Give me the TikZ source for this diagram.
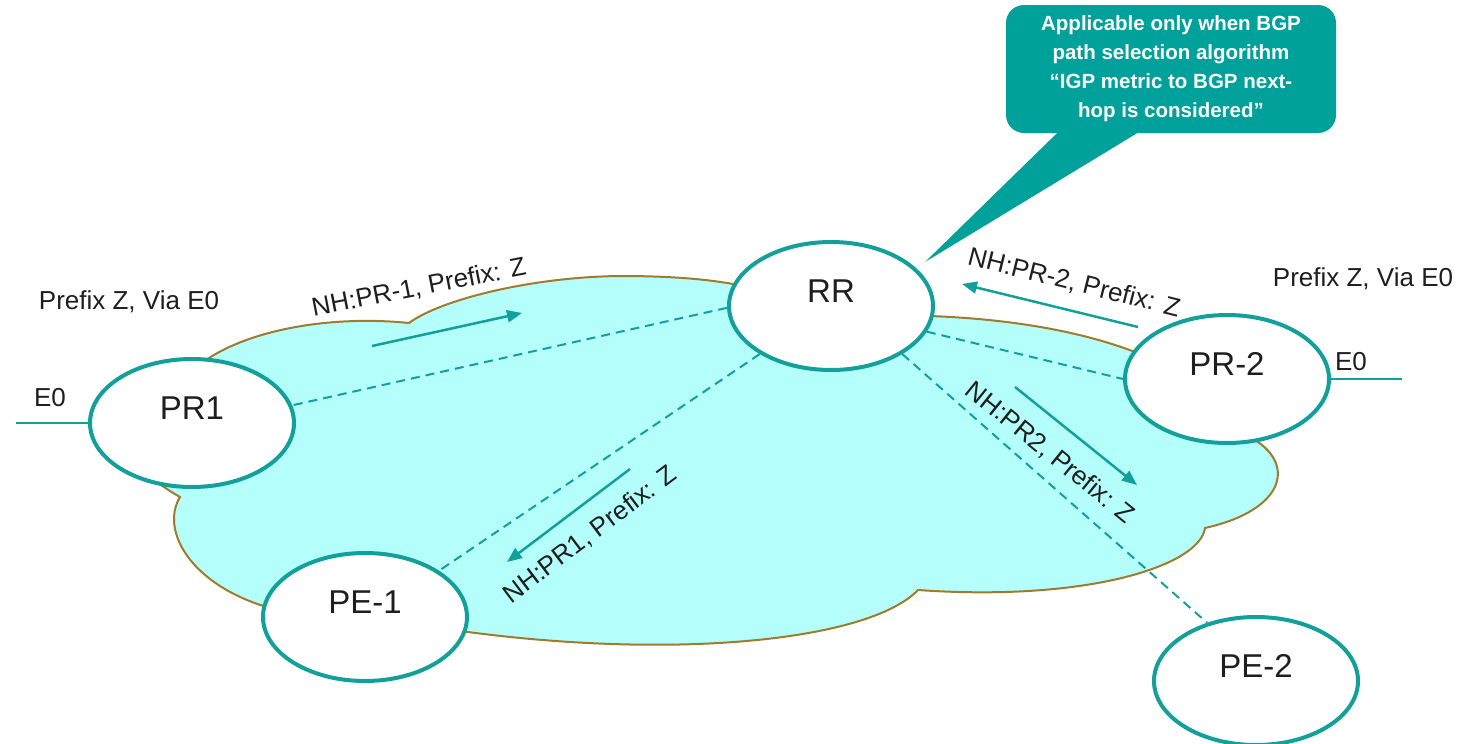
\documentclass[tikz,border=0pt]{standalone}
\usepackage{fontspec}
\setmainfont{Liberation Sans}
\usetikzlibrary{shapes.geometric,arrows.meta}
\definecolor{tealfill}{RGB}{0,161,154}
\definecolor{tealline}{RGB}{19,160,154}
\definecolor{cloudfill}{RGB}{180,255,251}
\definecolor{cloudedge}{RGB}{160,122,45}
\definecolor{txt}{RGB}{30,30,30}
\begin{document}
\begin{tikzpicture}[x=1pt,y=-1pt,
  router/.style={ellipse, draw=tealline, line width=4pt, fill=white,
    minimum width=204pt, minimum height=128pt, inner sep=0pt,
    font=\fontsize{33}{36}\selectfont, text=txt, text height=24pt, text depth=32pt},
  lbl/.style={font=\fontsize{26}{30}\selectfont, text=txt, inner sep=0pt},
  note/.style={fill=tealfill, rounded corners=18pt, minimum width=330pt, minimum height=128pt,
    text=white, align=center, inner sep=0pt,
    font=\bfseries\fontsize{20.5}{29}\selectfont},
  dashlink/.style={draw=tealline, line width=2pt, dash pattern=on 9pt off 6pt},
  msgarrow/.style={draw=tealline, line width=2.5pt, -{Triangle[length=15pt,width=12pt]}},
  e0line/.style={draw=tealline, line width=2pt}
]
\clip (0,0) rectangle (1478,744);

% cloud
\path[fill=cloudfill, draw=cloudedge, line width=2pt]
 (192,423) -- (206,360)
 .. controls (250,330) and (330,315) .. (409,323)
 .. controls (440,300) and (530,277) .. (620,276)
 .. controls (670,276) and (720,279) .. (760,290)
 -- (831,306) -- (930,316)
 .. controls (1010,319) and (1080,331) .. (1135,352)
 -- (1227,379) -- (1255,440)
 .. controls (1295,465) and (1285,510) .. (1205,528)
 .. controls (1200,565) and (1090,602) .. (918,590)
 .. controls (870,640) and (680,660) .. (468,632)
 -- (365,617) -- (270,608)
 .. controls (190,585) and (160,530) .. (180,497)
 .. controls (168,490) .. (140,470)
 -- cycle;

% callout
\node[note] (note) at (1171,69) {Applicable only when BGP\\path selection algorithm\\“IGP metric to BGP next-\\hop is considered”};
\coordinate (tip) at (925,262);
\fill[tealfill] ([xshift=-111pt,yshift=3pt]note.south) -- (tip) -- ([xshift=-29pt,yshift=3pt]note.south) -- cycle;

% coordinates for free ends
\coordinate (e0l) at (16,423);
\coordinate (e0r) at (1402,379);
\coordinate (a1s) at (372,346); \coordinate (a1e) at (522,313);
\coordinate (a2s) at (1138,327); \coordinate (a2e) at (962,284);
\coordinate (a3s) at (630,469); \coordinate (a3e) at (507,562);
\coordinate (a4s) at (1015,387); \coordinate (a4e) at (1137,485);

% dashed links (drawn before routers so routers cover ends)
\node[router] (RR) at (831,306) {RR};
\node[router] (PR1) at (192,423) {PR1};
\node[router] (PR2) at (1227,379) {PR-2};
\node[router] (PE1) at (365,617) {PE-1};
\node[router] (PE2) at (1256,681) {PE-2};

\draw[dashlink] (RR.181) -- (PR1.10);
\draw[dashlink] (RR.214) -- (PE1.32);
\draw[dashlink] (RR.345) -- (PR2.180);
\draw[dashlink] (RR.326) -- (PE2.130);

\draw[e0line] (PR1.west) -- (e0l);
\draw[e0line] (PR2.east) -- (e0r);

% message arrows
\draw[msgarrow] (a1s) -- (a1e);
\draw[msgarrow] (a2s) -- (a2e);
\draw[msgarrow] (a3s) -- (a3e);
\draw[msgarrow] (a4s) -- (a4e);

% labels
\node[lbl] (pzl) at (129,302) {Prefix Z, Via E0};
\node[lbl] (pzr) at (1363,279) {Prefix Z, Via E0};
\node[lbl] (e0lt) at (50,398) {E0};
\node[lbl] (e0rt) at (1351,362) {E0};
\node[lbl, rotate=11] (m1) at (419,288) {NH:PR-1, Prefix: Z};
\node[lbl, rotate=-14] (m2) at (1074,283) {NH:PR-2, Prefix: Z};
\node[lbl, rotate=37] (m3) at (590,535) {NH:PR1, Prefix: Z};
\node[lbl, rotate=-39] (m4) at (1050,453) {NH:PR2, Prefix: Z};
\end{tikzpicture}
\end{document}
